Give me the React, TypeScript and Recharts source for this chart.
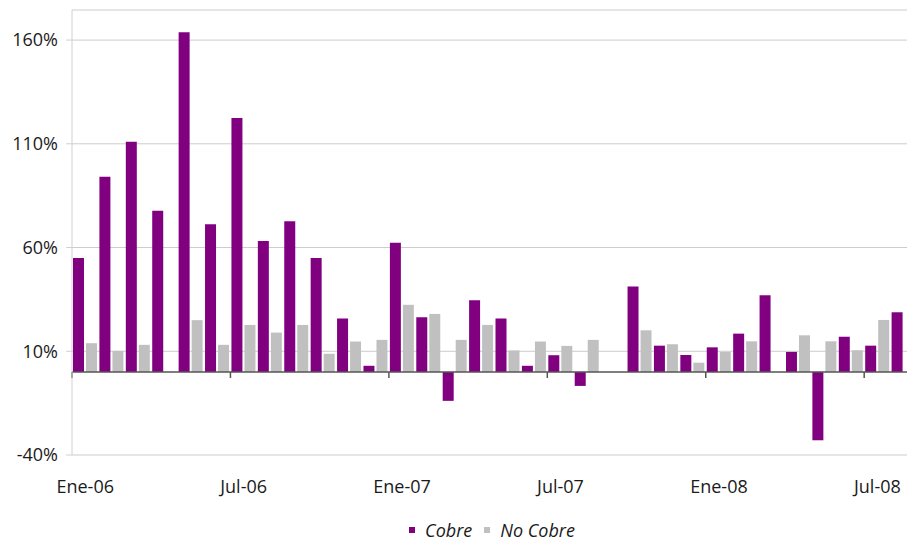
import {
  BarChart,
  Bar,
  XAxis,
  YAxis,
  CartesianGrid,
  Legend,
  ReferenceLine,
} from "recharts";

const months = [
  "Ene-06", "Feb-06", "Mar-06", "Abr-06", "May-06", "Jun-06",
  "Jul-06", "Ago-06", "Sep-06", "Oct-06", "Nov-06", "Dic-06",
  "Ene-07", "Feb-07", "Mar-07", "Abr-07", "May-07", "Jun-07",
  "Jul-07", "Ago-07", "Sep-07", "Oct-07", "Nov-07", "Dic-07",
  "Ene-08", "Feb-08", "Mar-08", "Abr-08", "May-08", "Jun-08",
  "Jul-08", "Ago-08",
];

const cobre = [
  55, 94.1, 111, 77.7, 163.8, 71.2,
  122.5, 63.2, 72.7, 55, 25.8, 3,
  62.3, 26.4, -13.9, 34.6, 25.8, 3,
  8.1, -6.7, null, 41.2, 12.7, 8.2,
  11.9, 18.5, 37, 9.7, -32.9, 17,
  12.7, 28.8,
];

const noCobre = [
  13.9, 10.2, 13.1, null, 25, 13.1,
  22.7, 19, 22.7, 8.8, 14.7, 15.5,
  32.4, 28, 15.5, 22.7, 10.4, 14.7,
  12.6, 15.5, null, 20.1, 13.4, 4.5,
  9.7, 14.8, null, 17.7, 14.8, 10.5,
  25.1, null,
];

const tickLabels = ["Ene-06", "Jul-06", "Ene-07", "Jul-07", "Ene-08", "Jul-08"];
const yTicks = [-40, 10, 60, 110, 160];

const PURPLE = "#800080";
const GRAY = "#c0c0c0";
const TEXT = "#1a1a1a";
const FONT = "'Open Sans', sans-serif";

const chartData = months.map((m, i) => ({
  month: m,
  idx: i,
  cobre: cobre[i],
  noCobre: noCobre[i],
}));

// boundaries of the labelled months, drawn as ticks on the zero line
const majorIdx = tickLabels.map((l) => months.indexOf(l));

function LegendBox() {
  const items = [
    { name: "Cobre", color: PURPLE },
    { name: "No Cobre", color: GRAY },
  ];
  return (
    <div
      style={{
        display: "flex",
        justifyContent: "center",
        alignItems: "center",
        height: 26,
        lineHeight: "26px",
        paddingLeft: 70,
        fontFamily: FONT,
        fontSize: 18,
        fontStyle: "italic",
        color: TEXT,
      }}
    >
      {items.map((it, i) => (
        <span
          key={it.name}
          style={{ display: "flex", alignItems: "center", marginLeft: i ? 9 : 0 }}
        >
          <span
            style={{ width: 6, height: 6, background: it.color, marginRight: 10, display: "inline-block" }}
          />
          <span style={{ paddingRight: 3, lineHeight: "26px" }}>{it.name}</span>
        </span>
      ))}
    </div>
  );
}

export default function App() {
  return (
    <div
      style={{
        position: "fixed",
        left: 0,
        top: 0,
        width: 907,
        height: 543,
        overflow: "hidden",
        fontFamily: FONT,
        background: "#fff",
      }}
    >
      <BarChart
        width={917}
        height={543}
        data={chartData}
        margin={{ top: 10, right: 0, left: 0, bottom: 0 }}
        barCategoryGap={1}
        barGap={2}
      >
        <CartesianGrid vertical={false} stroke="#cccccc" />
        <XAxis
          dataKey="month"
          ticks={tickLabels}
          interval={0}
          axisLine={false}
          tickLine={false}
          height={62}
          tickMargin={19}
          tick={{ fontSize: 18, fill: TEXT, fontFamily: FONT }}
        />
        <XAxis xAxisId="idx" dataKey="idx" type="number" domain={[0, months.length]} hide />
        <YAxis
          domain={[-40, 174.5]}
          ticks={yTicks}
          width={72}
          tickSize={6}
          tickMargin={8}
          axisLine={{ stroke: "#d0d0d0" }}
          tickLine={{ stroke: "#d0d0d0" }}
          tick={{ fontSize: 18, fill: TEXT, fontFamily: FONT }}
          tickFormatter={(v) => `${v}%`}
        />
        <Legend verticalAlign="bottom" content={<LegendBox />} />
        <Bar dataKey="cobre" name="Cobre" fill={PURPLE} isAnimationActive={false} />
        <Bar dataKey="noCobre" name="No Cobre" fill={GRAY} isAnimationActive={false} />
        <ReferenceLine xAxisId="idx" y={0} stroke="#555555" strokeWidth={1.5} />
        {majorIdx.map((k) => (
          <ReferenceLine
            key={k}
            xAxisId="idx"
            segment={[
              { x: k, y: 0 },
              { x: k, y: -2.9 },
            ]}
            stroke="#555555"
            strokeWidth={1.5}
          />
        ))}
      </BarChart>
    </div>
  );
}
